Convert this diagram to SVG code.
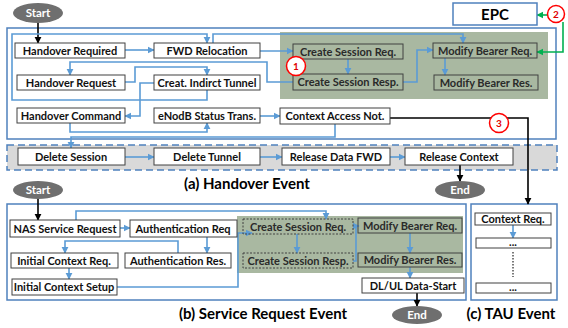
<svg xmlns="http://www.w3.org/2000/svg" width="568" height="328" viewBox="0 0 568 328">
<defs>
<marker id="ab" viewBox="0 0 10 10" refX="9" refY="5" markerWidth="4.5" markerHeight="4.5" orient="auto"><path d="M0,0L10,5L0,10z" fill="#5b9bd5"/></marker>
<marker id="ak" viewBox="0 0 10 10" refX="9" refY="5" markerWidth="4.5" markerHeight="4.5" orient="auto"><path d="M0,0L10,5L0,10z" fill="#000"/></marker>
<marker id="ag" viewBox="0 0 10 10" refX="9" refY="5" markerWidth="4.5" markerHeight="4.5" orient="auto"><path d="M0,0L10,5L0,10z" fill="#00b050"/></marker>
<style>
.frame{fill:#fff;stroke:#4f81bd;stroke-width:1.5}
.band{fill:#d9d9d9;stroke:#4f81bd;stroke-width:1.5;stroke-dasharray:7,4}
.green{fill:#a9b8a1;stroke:none}
.box{fill:#fff;stroke:#404040;stroke-width:1}
.gbox{fill:none;stroke:#404040;stroke-width:1}
.dbox{fill:none;stroke:#404040;stroke-width:1;stroke-dasharray:2,1.5}
.t{font-family:Lato,"Liberation Sans",sans-serif;font-weight:bold;font-size:11px;fill:#111;text-anchor:middle}
.tg{fill:#2a2a2a}
.ttl{font-family:Lato,"Liberation Sans",sans-serif;font-weight:bold;font-size:15px;fill:#000;text-anchor:middle}
.ell{fill:#6f6f6f}
.et{font-family:Lato,"Liberation Sans",sans-serif;font-weight:bold;font-size:11.5px;fill:#fff;text-anchor:middle}
.c{fill:none;stroke:#5b9bd5;stroke-width:1.6;marker-end:url(#ab)}
.cn{fill:none;stroke:#5b9bd5;stroke-width:1.6}
.k{fill:none;stroke:#000;stroke-width:1.6;marker-end:url(#ak)}
.kn{fill:none;stroke:#000;stroke-width:1.6}
.g{fill:none;stroke:#00b050;stroke-width:1.6;marker-end:url(#ag)}
.num{fill:#fff;stroke:#ff0000;stroke-width:1.5}
.nt{font-family:Lato,"Liberation Sans",sans-serif;font-weight:bold;font-size:10px;fill:#e00000;text-anchor:middle}
</style>
</defs>

<!-- frames -->
<rect class="frame" x="7" y="28" width="549" height="111"/>
<rect class="green" x="280" y="32" width="268" height="67"/>
<rect class="band" x="7" y="145" width="550" height="25"/>
<rect class="frame" x="7" y="204" width="459" height="96"/>
<rect class="green" x="237" y="216" width="226" height="57"/>
<rect class="frame" x="471" y="204" width="86" height="96"/>

<text class="ttl" x="247" y="189">(a) Handover Event</text>
<text class="ttl" x="263" y="319">(b) Service Request Event</text>
<text class="ttl" x="511" y="319">(c) TAU Event</text>

<g id="connectors">
<!-- (a) -->
<path class="k" d="M38,23V43"/>
<path class="c" d="M125,50H154"/>
<path class="c" d="M207,90V100H12V34H207V43"/>
<path class="c" d="M213,43V34H463V43"/>
<path class="c" d="M260,51H293"/>
<path class="c" d="M348,59V74"/>
<path class="c" d="M403,82H417V50H433"/>
<path class="c" d="M445,58V75"/>
<path class="c" d="M125,82H135V67H207V75"/>
<path class="c" d="M293,82H267V62H70V75"/>
<path class="c" d="M154,83H140V116H125"/>
<path class="c" d="M70,123V132H207V123"/>
<path class="c" d="M260,116H280"/>
<path class="c" d="M335,124V137H71V148"/>
<path class="c" d="M125,157H154"/>
<path class="c" d="M260,157H282"/>
<path class="c" d="M390,157H405"/>
<path class="k" d="M460,165V181"/>
<path class="g" d="M548,15H537"/>
<path class="g" d="M563,22V52H537"/>
<path class="k" d="M390,118H528V204"/>
<!-- (b) -->
<path class="k" d="M38,199V220"/>
<path class="c" d="M120,228H130"/>
<path class="c" d="M76,220V211H326V219"/>
<path class="c" d="M207,237V253"/>
<path class="c" d="M178,253V241H65V253"/>
<path class="c" d="M69,268V279"/>
<path class="c" d="M117,287H238V233H252"/>
<path class="c" d="M297,234V253"/>
<path class="c" d="M353,261H356V226H359"/>
<path class="c" d="M410,233V253"/>
<path class="c" d="M410,267V278"/>
<path class="k" d="M417,293V306"/>
<!-- (c) -->
<path class="c" d="M513,225V238"/>
<path fill="none" stroke="#333" stroke-width="1.3" stroke-dasharray="1.5,1.5" d="M513,252V277"/>
</g>

<!-- (a) nodes -->
<g id="start-a"><ellipse class="ell" cx="38" cy="13" rx="25" ry="10"/><text class="et" x="38" y="17">Start</text></g>
<g id="handover-required"><rect class="box" x="15" y="43" width="110" height="15"/><text class="t" x="70" y="54.5">Handover Required</text></g>
<g id="fwd-relocation"><rect class="box" x="154" y="43" width="106" height="15"/><text class="t" x="207" y="54.5">FWD Relocation</text></g>
<g id="handover-request"><rect class="box" x="17" y="75" width="108" height="15"/><text class="t" x="71" y="86.5">Handover Request</text></g>
<g id="creat-indirct-tunnel"><rect class="box" x="154" y="75" width="106" height="15"/><text class="t" x="207" y="86.5">Creat. Indirct Tunnel</text></g>
<g id="handover-command"><rect class="box" x="17" y="108" width="108" height="15"/><text class="t" x="71" y="119.5">Handover Command</text></g>
<g id="enodb-status-trans"><rect class="box" x="154" y="108" width="106" height="15"/><text class="t" x="207" y="119.5">eNodB Status Trans.</text></g>
<g id="context-access-not"><rect class="box" x="280" y="108" width="110" height="16"/><text class="t" x="335" y="120">Context Access Not.</text></g>
<g id="create-session-req-a"><rect class="gbox" x="293" y="44" width="110" height="15"/><text class="t tg" x="348" y="55.5">Create Session Req.</text></g>
<g id="create-session-resp-a"><rect class="gbox" x="293" y="74" width="110" height="16"/><text class="t tg" x="348" y="86">Create Session Resp.</text></g>
<g id="modify-bearer-req-a"><rect class="gbox" x="433" y="43" width="104" height="15"/><text class="t tg" x="485" y="54.5">Modify Bearer Req.</text></g>
<g id="modify-bearer-res-a"><rect class="gbox" x="434" y="75" width="104" height="15"/><text class="t tg" x="486" y="86.5">Modify Bearer Res.</text></g>
<g id="epc"><rect fill="#fff" stroke="#4f81bd" stroke-width="1.5" x="453" y="3" width="84" height="22"/><text class="ttl" x="495" y="19.5">EPC</text></g>
<g id="mark-1"><circle class="num" cx="296" cy="66" r="9.5"/><text class="nt" x="296" y="69.5">1</text></g>
<g id="mark-2"><circle class="num" cx="556" cy="14" r="8.5"/><text class="nt" x="556" y="17.5">2</text></g>
<g id="mark-3"><circle class="num" cx="499" cy="123" r="9.5"/><text class="nt" x="499" y="126.5">3</text></g>
<g id="delete-session"><rect class="box" x="18" y="148" width="107" height="17"/><text class="t" x="71" y="160.5">Delete Session</text></g>
<g id="delete-tunnel"><rect class="box" x="154" y="148" width="106" height="17"/><text class="t" x="207" y="160.5">Delete Tunnel</text></g>
<g id="release-data-fwd"><rect class="box" x="282" y="148" width="108" height="17"/><text class="t" x="336" y="160.5">Release Data FWD</text></g>
<g id="release-context"><rect class="box" x="405" y="148" width="108" height="17"/><text class="t" x="459" y="160.5">Release Context</text></g>
<g id="end-a"><ellipse class="ell" cx="460" cy="190" rx="25" ry="9"/><text class="et" x="460" y="194">End</text></g>

<!-- (b) nodes -->
<g id="start-b"><ellipse class="ell" cx="38" cy="190" rx="25" ry="9"/><text class="et" x="38" y="194">Start</text></g>
<g id="nas-service-request"><rect class="box" x="10" y="220" width="110" height="17"/><text class="t" x="65" y="232.5">NAS Service Request</text></g>
<g id="authentication-req"><rect class="box" x="130" y="220" width="107" height="17"/><text class="t" x="183" y="232.5">Authentication Req</text></g>
<g id="initial-context-req"><rect class="box" x="11" y="253" width="107" height="15"/><text class="t" x="64" y="264.5">Initial Context Req.</text></g>
<g id="authentication-res"><rect class="box" x="125" y="253" width="106" height="15"/><text class="t" x="178" y="264.5">Authentication Res.</text></g>
<g id="initial-context-setup"><rect class="box" x="12" y="279" width="105" height="16"/><text class="t" x="64" y="291">Initial Context Setup</text></g>
<g id="create-session-req-b"><rect class="dbox" x="243" y="219" width="110" height="15"/><text class="t tg" x="298" y="230.5">Create Session Req.</text></g>
<g id="create-session-resp-b"><rect class="dbox" x="243" y="253" width="110" height="15"/><text class="t tg" x="298" y="264.5">Create Session Resp.</text></g>
<g id="modify-bearer-req-b"><rect class="gbox" x="358" y="218" width="104" height="15"/><text class="t tg" x="410" y="229.5">Modify Bearer Req.</text></g>
<g id="modify-bearer-res-b"><rect class="gbox" x="358" y="253" width="104" height="14"/><text class="t tg" x="410" y="264">Modify Bearer Res.</text></g>
<g id="dl-ul-data-start"><rect class="box" x="362" y="278" width="102" height="15"/><text class="t" x="413" y="289.5">DL/UL Data-Start</text></g>
<g id="end-b"><ellipse class="ell" cx="417" cy="315" rx="25" ry="9"/><text class="et" x="417" y="319">End</text></g>

<!-- (c) nodes -->
<g id="context-req"><rect class="box" x="475" y="213" width="76" height="12"/><text class="t" x="513" y="223">Context Req.</text></g>
<g id="tau-step-2"><rect class="box" x="476" y="238" width="75" height="10"/><text class="t" x="513" y="246" font-size="9">...</text></g>
<g id="tau-step-n"><rect class="box" x="476" y="283" width="75" height="10"/><text class="t" x="513" y="291" font-size="9">...</text></g>
</svg>
